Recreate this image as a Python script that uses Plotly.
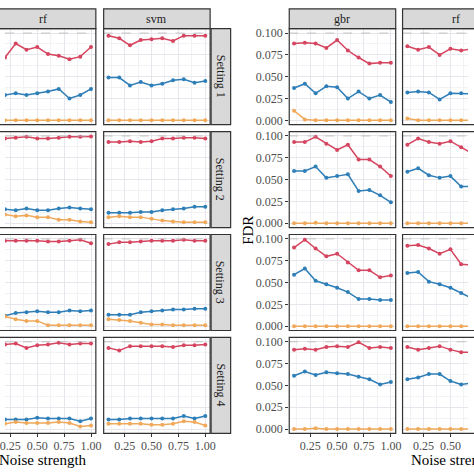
import plotly.graph_objects as go

# noise strength values on the x axis
noise = [0.1, 0.2, 0.3, 0.4, 0.5, 0.6, 0.7, 0.8, 0.9, 1.0]
x_ticks = [0.25, 0.50, 0.75, 1.00]
x_tick_text = ["0.25", "0.50", "0.75", "1.00"]
y_ticks = [0.0, 0.025, 0.05, 0.075, 0.1]
y_tick_text = ["0.000", "0.025", "0.050", "0.075", "0.100"]
settings = ["Setting 1", "Setting 2", "Setting 3", "Setting 4"]

# left block, rf column (red / blue / orange methods)
lrf_s1_red = [0.085, 0.072, 0.088, 0.081, 0.084, 0.076, 0.074, 0.070, 0.073, 0.084]
lrf_s1_blue = [0.030, 0.029, 0.031, 0.029, 0.031, 0.033, 0.036, 0.025, 0.029, 0.036]
lrf_s1_orange = [0.000, 0.000, 0.000, 0.000, 0.000, 0.000, 0.000, 0.000, 0.000, 0.000]
lrf_s2_red = [0.096, 0.097, 0.098, 0.099, 0.097, 0.097, 0.098, 0.099, 0.099, 0.0995]
lrf_s2_blue = [0.016, 0.016, 0.015, 0.017, 0.015, 0.015, 0.017, 0.018, 0.017, 0.016]
lrf_s2_orange = [0.011, 0.010, 0.008, 0.009, 0.007, 0.007, 0.004, 0.004, 0.002, 0.001]
lrf_s3_red = [0.097, 0.098, 0.098, 0.098, 0.098, 0.097, 0.097, 0.098, 0.099, 0.095]
lrf_s3_blue = [0.012, 0.012, 0.015, 0.016, 0.017, 0.016, 0.016, 0.018, 0.017, 0.018]
lrf_s3_orange = [0.012, 0.011, 0.008, 0.006, 0.006, 0.001, 0.001, 0.001, 0.001, 0.001]
lrf_s4_red = [0.096, 0.097, 0.098, 0.093, 0.096, 0.097, 0.099, 0.097, 0.098, 0.098]
lrf_s4_blue = [0.011, 0.011, 0.011, 0.011, 0.013, 0.012, 0.012, 0.012, 0.009, 0.012]
lrf_s4_orange = [0.006, 0.006, 0.008, 0.007, 0.007, 0.007, 0.008, 0.007, 0.003, 0.004]

# left block, svm column
lsvm_s1_red = [0.097, 0.094, 0.086, 0.092, 0.093, 0.094, 0.091, 0.097, 0.097, 0.097]
lsvm_s1_blue = [0.049, 0.049, 0.040, 0.044, 0.040, 0.042, 0.046, 0.047, 0.043, 0.045]
lsvm_s1_orange = [0.000, 0.000, 0.000, 0.000, 0.000, 0.000, 0.000, 0.000, 0.000, 0.000]
lsvm_s2_red = [0.093, 0.093, 0.094, 0.093, 0.094, 0.097, 0.097, 0.098, 0.098, 0.097]
lsvm_s2_blue = [0.012, 0.012, 0.012, 0.013, 0.013, 0.015, 0.016, 0.017, 0.019, 0.019]
lsvm_s2_orange = [0.007, 0.008, 0.007, 0.007, 0.005, 0.003, 0.002, 0.001, 0.001, 0.001]
lsvm_s3_red = [0.094, 0.096, 0.096, 0.097, 0.098, 0.098, 0.098, 0.099, 0.098, 0.098]
lsvm_s3_blue = [0.013, 0.013, 0.013, 0.016, 0.017, 0.018, 0.019, 0.019, 0.020, 0.020]
lsvm_s3_orange = [0.008, 0.007, 0.006, 0.004, 0.002, 0.002, 0.001, 0.001, 0.001, 0.001]
lsvm_s4_red = [0.093, 0.090, 0.095, 0.095, 0.095, 0.095, 0.094, 0.096, 0.096, 0.097]
lsvm_s4_blue = [0.011, 0.011, 0.012, 0.012, 0.012, 0.012, 0.012, 0.015, 0.012, 0.015]
lsvm_s4_orange = [0.006, 0.006, 0.006, 0.006, 0.005, 0.005, 0.006, 0.009, 0.008, 0.004]

# right block, gbr column
rgbr_s1_red = [0.088, 0.089, 0.088, 0.083, 0.092, 0.080, 0.072, 0.065, 0.066, 0.066]
rgbr_s1_blue = [0.037, 0.042, 0.031, 0.039, 0.038, 0.025, 0.033, 0.025, 0.029, 0.021]
rgbr_s1_orange = [0.011, 0.001, 0.000, 0.000, 0.000, 0.000, 0.000, 0.000, 0.000, 0.000]
rgbr_s2_red = [0.093, 0.093, 0.099, 0.091, 0.084, 0.090, 0.073, 0.073, 0.065, 0.054]
rgbr_s2_blue = [0.060, 0.060, 0.065, 0.052, 0.054, 0.056, 0.037, 0.038, 0.032, 0.024]
rgbr_s2_orange = [0.000, 0.000, 0.0005, 0.000, 0.000, 0.000, 0.000, 0.000, 0.000, 0.000]
rgbr_s3_red = [0.090, 0.099, 0.089, 0.080, 0.083, 0.073, 0.064, 0.064, 0.056, 0.058]
rgbr_s3_blue = [0.059, 0.066, 0.052, 0.048, 0.044, 0.039, 0.031, 0.031, 0.030, 0.030]
rgbr_s3_orange = [0.000, 0.000, 0.000, 0.000, 0.000, 0.000, 0.000, 0.000, 0.000, 0.000]
rgbr_s4_red = [0.091, 0.092, 0.091, 0.094, 0.095, 0.094, 0.0995, 0.093, 0.094, 0.093]
rgbr_s4_blue = [0.061, 0.066, 0.062, 0.065, 0.064, 0.063, 0.060, 0.057, 0.051, 0.054]
rgbr_s4_orange = [0.000, 0.000, 0.001, 0.000, 0.000, 0.000, 0.000, 0.000, 0.000, 0.000]

# right block, rf column
rrf_s1_red = [0.085, 0.081, 0.084, 0.075, 0.082, 0.080, 0.082, 0.078, 0.080, 0.079]
rrf_s1_blue = [0.032, 0.033, 0.032, 0.024, 0.031, 0.031, 0.032, 0.030, 0.031, 0.029]
rrf_s1_orange = [0.002, 0.000, 0.000, 0.000, 0.000, 0.000, 0.000, 0.000, 0.000, 0.000]
rrf_s2_red = [0.090, 0.097, 0.093, 0.091, 0.094, 0.087, 0.080, 0.078, 0.074, 0.070]
rrf_s2_blue = [0.059, 0.063, 0.055, 0.052, 0.054, 0.042, 0.042, 0.040, 0.035, 0.030]
rrf_s2_orange = [0.000, 0.000, 0.000, 0.000, 0.000, 0.000, 0.000, 0.000, 0.000, 0.000]
rrf_s3_red = [0.092, 0.093, 0.089, 0.083, 0.088, 0.071, 0.070, 0.068, 0.065, 0.062]
rrf_s3_blue = [0.061, 0.062, 0.051, 0.048, 0.044, 0.038, 0.032, 0.031, 0.030, 0.029]
rrf_s3_orange = [0.000, 0.000, 0.000, 0.000, 0.000, 0.000, 0.000, 0.000, 0.000, 0.000]
rrf_s4_red = [0.094, 0.091, 0.093, 0.095, 0.091, 0.088, 0.088, 0.090, 0.091, 0.090]
rrf_s4_blue = [0.057, 0.059, 0.063, 0.063, 0.055, 0.051, 0.053, 0.052, 0.050, 0.051]
rrf_s4_orange = [0.000, 0.000, 0.000, 0.000, 0.000, 0.000, 0.000, 0.000, 0.000, 0.000]

panels = {
    0: [(lrf_s1_red, lrf_s1_blue, lrf_s1_orange), (lrf_s2_red, lrf_s2_blue, lrf_s2_orange),
        (lrf_s3_red, lrf_s3_blue, lrf_s3_orange), (lrf_s4_red, lrf_s4_blue, lrf_s4_orange)],
    1: [(lsvm_s1_red, lsvm_s1_blue, lsvm_s1_orange), (lsvm_s2_red, lsvm_s2_blue, lsvm_s2_orange),
        (lsvm_s3_red, lsvm_s3_blue, lsvm_s3_orange), (lsvm_s4_red, lsvm_s4_blue, lsvm_s4_orange)],
    2: [(rgbr_s1_red, rgbr_s1_blue, rgbr_s1_orange), (rgbr_s2_red, rgbr_s2_blue, rgbr_s2_orange),
        (rgbr_s3_red, rgbr_s3_blue, rgbr_s3_orange), (rgbr_s4_red, rgbr_s4_blue, rgbr_s4_orange)],
    3: [(rrf_s1_red, rrf_s1_blue, rrf_s1_orange), (rrf_s2_red, rrf_s2_blue, rrf_s2_orange),
        (rrf_s3_red, rrf_s3_blue, rrf_s3_orange), (rrf_s4_red, rrf_s4_blue, rrf_s4_orange)],
}

W = H = 474
FONT = "Liberation Serif"
colors = ["#D6455F", "#2E7EB8", "#F0A95A"]
border = "#333333"

def fx(p):
    return p / W

def fy(p):
    return 1 - p / H

# columns: strip label, full panel left/right px, visible left/right px, show y labels
cols = [
    ("rf", -16, 93, 0, 93, False),
    ("svm", 101, 210, 101, 210, False),
    ("gbr", 291, 400, 291, 400, True),
    ("rf", 407, 516, 407, 474, False),
]
row_tops = [27, 131, 235, 339]
ph = 97
x_full = (0.055, 1.045)
y_range = [-0.005, 0.105]

fig = go.Figure()
shapes = []
annotations = []
layout = {}

def label(text, x, y, size=12, angle=0, color="#1A1A1A"):
    return dict(text=text, x=fx(x), y=fy(y), xref="paper", yref="paper",
                xanchor="center", yanchor="middle", showarrow=False, textangle=angle,
                font=dict(family=FONT, size=size, color=color))

k = 0
for ci, (name, l, r, vl, vr, ylab) in enumerate(cols):
    span = (x_full[1] - x_full[0]) / (r - l)
    xr = [x_full[0] + (vl - l) * span, x_full[0] + (vr - l) * span]
    for ri, top in enumerate(row_tops):
        k += 1
        xn = "x" if k == 1 else f"x{k}"
        yn = "y" if k == 1 else f"y{k}"
        bottom_row = ri == len(row_tops) - 1
        layout["xaxis" if k == 1 else f"xaxis{k}"] = dict(
            domain=[fx(vl), fx(vr)], range=xr, anchor=yn,
            tickvals=x_ticks, ticktext=x_tick_text, showticklabels=bottom_row,
            ticks="outside" if bottom_row else "", ticklen=3, tickcolor=border,
            ticklabeloverflow="allow", ticklabelstandoff=-2,
            showgrid=True, gridcolor="#E6E6EC", gridwidth=0.8, zeroline=False,
            minor=dict(tickvals=[0.125, 0.375, 0.625, 0.875], showgrid=True,
                       gridcolor="#F2F2F5", gridwidth=0.5),
            tickfont=dict(family=FONT, size=12, color="#4D4D4D"),
        )
        layout["yaxis" if k == 1 else f"yaxis{k}"] = dict(
            domain=[fy(top + ph), fy(top)], range=y_range, anchor=xn,
            tickvals=y_ticks, ticktext=y_tick_text, showticklabels=ylab,
            ticks="outside" if ylab else "", ticklen=3, tickcolor=border,
            showgrid=True, gridcolor="#E6E6EC", gridwidth=0.8, zeroline=False,
            minor=dict(tickvals=[0.0125, 0.0375, 0.0625, 0.0875], showgrid=True,
                       gridcolor="#F2F2F5", gridwidth=0.5),
            tickfont=dict(family=FONT, size=12, color="#4D4D4D"),
        )
        # dashed nominal level
        shapes.append(dict(type="line", xref=f"{xn} domain", yref=yn, x0=0, x1=1,
                           y0=0.1, y1=0.1, line=dict(color="#B8B8B8", width=0.8, dash="dash")))
        for series, c in zip(panels[ci][ri], colors):
            fig.add_trace(go.Scatter(
                x=noise, y=series, xaxis=xn, yaxis=yn, mode="lines+markers",
                line=dict(color=c, width=1.5), marker=dict(color=c, size=4),
                showlegend=False, hoverinfo="skip"))
        # panel border
        shapes.append(dict(type="rect", xref="paper", yref="paper", x0=fx(l), x1=fx(r),
                           y0=fy(top + ph), y1=fy(top), line=dict(color=border, width=1.2),
                           layer="above"))
    # column strip
    shapes.append(dict(type="rect", xref="paper", yref="paper", x0=fx(l), x1=fx(r),
                       y0=fy(27), y1=fy(7), fillcolor="#D9D9D9",
                       line=dict(color=border, width=1.2)))
    annotations.append(label(name, (l + r) / 2, 17.5))

# row strips on the right of the left block
for ri, top in enumerate(row_tops):
    shapes.append(dict(type="rect", xref="paper", yref="paper", x0=fx(211), x1=fx(231),
                       y0=fy(top + ph), y1=fy(top), fillcolor="#D9D9D9",
                       line=dict(color=border, width=1.2)))
    annotations.append(label(settings[ri], 221, top + ph / 2, angle=90))

annotations.append(label("FDR", 248, 231, size=15, angle=-90, color="#000000"))
annotations.append(label("Noise strength", 39, 463, size=15, color="#000000"))
annotations.append(label("Noise strength", 461, 463, size=15, color="#000000"))

fig.update_layout(
    width=W, height=H, margin=dict(l=0, r=0, t=0, b=0),
    paper_bgcolor="white", plot_bgcolor="white",
    shapes=shapes, annotations=annotations, showlegend=False,
    **layout,
)

fig.write_html("out.html", config={"displayModeBar": False},
               post_script="document.body.style.margin='0';")
